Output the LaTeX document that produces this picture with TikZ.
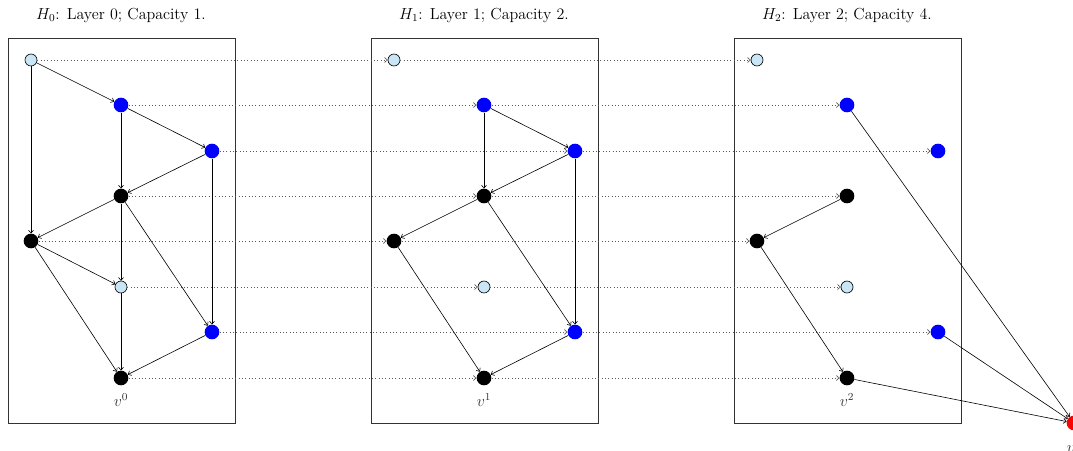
\documentclass[tikz,border=0pt]{standalone}
\usetikzlibrary{arrows.meta}
\definecolor{lightb}{RGB}{200,230,245}
\begin{document}
\begin{tikzpicture}[x=0.75pt,y=-0.75pt,
  lb/.style={circle,draw=black,line width=0.5pt,fill=lightb,inner sep=0pt,minimum size=9pt},
  bl/.style={circle,fill=blue,inner sep=0pt,minimum size=11pt},
  bk/.style={circle,fill=black,inner sep=0pt,minimum size=11pt},
  rd/.style={circle,fill=red,inner sep=0pt,minimum size=11pt},
  frame/.style={draw=black!80,line width=0.7pt},
  arc/.style={-{To[length=2.5pt,width=4pt]},line width=0.45pt},
  dotarc/.style={-{To[length=2.5pt,width=4pt]},dotted,draw=black!65,line width=0.5pt},
  ttl/.style={font=\fontsize{12}{14}\selectfont},
  lbl/.style={font=\fontsize{11.5}{13}\selectfont,text=black!80}]
\useasboundingbox (0,0) rectangle (1073,450);
\foreach \i/\dx in {0/0,1/363,2/726}{
  \node[frame,minimum width=227*0.75pt,minimum height=385*0.75pt,inner sep=0pt] (box\i) at (121.5+\dx,230.5) {};
  \node[ttl] (t\i) at (121+\dx,15) {$H_{\i}$: Layer \i; Capacity \pgfmathparse{int(2^\i)}\pgfmathresult.};
  \node[lb] (A\i) at (31+\dx,60) {};
  \node[bl] (B\i) at (121+\dx,105) {};
  \node[bl] (C\i) at (212+\dx,151) {};
  \node[bk] (D\i) at (121+\dx,196) {};
  \node[bk] (E\i) at (31+\dx,241) {};
  \node[lb] (F\i) at (121+\dx,287) {};
  \node[bl] (G\i) at (212+\dx,332) {};
  \node[bk] (H\i) at (121+\dx,378) {};
  \node[lbl] (v\i) at (121+\dx,400) {$v^{\i}$};
}
\node[rd] (R) at (1074,423) {};
\node[lbl] (vR) at (1074,446) {$v^3$};
% dotted layer links
\foreach \n in {A,B,C,D,E,F,G,H}{
  \draw[dotarc] (\n0) -- (\n1);
  \draw[dotarc] (\n1) -- (\n2);
}
% layer 0
\foreach \s/\t in {A0/B0,A0/E0,B0/C0,B0/D0,C0/D0,C0/G0,D0/E0,D0/F0,D0/G0,E0/F0,E0/H0,F0/H0,G0/H0}
  \draw[arc] (\s) -- (\t);
% layer 1
\foreach \s/\t in {B1/C1,B1/D1,C1/D1,C1/G1,D1/E1,D1/G1,E1/H1,G1/H1}
  \draw[arc] (\s) -- (\t);
% layer 2
\foreach \s/\t in {D2/E2,E2/H2,B2/R,G2/R,H2/R}
  \draw[arc] (\s) -- (\t);
\end{tikzpicture}
\end{document}
